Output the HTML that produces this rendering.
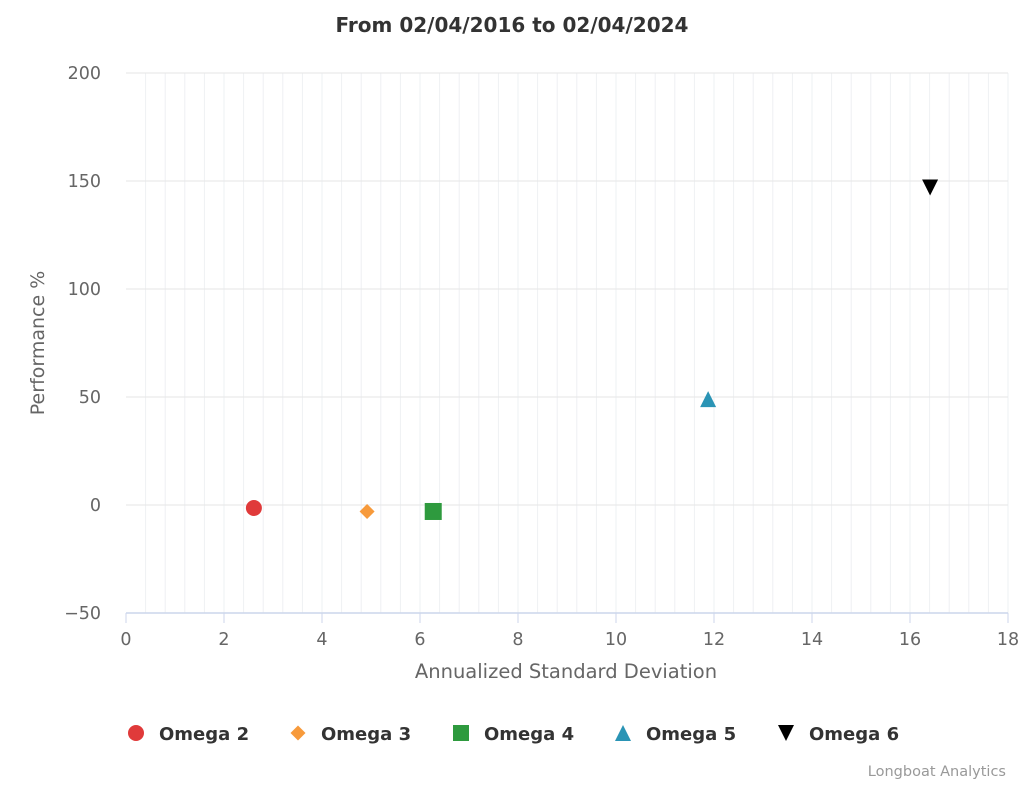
<!DOCTYPE html>
<html><head><meta charset="utf-8"><style>
html,body{margin:0;padding:0;background:#fff;}
svg{display:block;font-family:"DejaVu Sans","Liberation Sans",sans-serif;}
</style></head><body>
<svg id="chart" width="1024" height="785" viewBox="0 0 1024 785">
<text x="512" y="32" text-anchor="middle" font-size="20" font-weight="bold" fill="#333">From 02/04/2016 to 02/04/2024</text>
<g id="grid"></g>
<g id="axes"></g>
<g id="points"></g>
<text x="566" y="678" text-anchor="middle" font-size="19.5" fill="#666">Annualized Standard Deviation</text>
<text transform="translate(44,343) rotate(-90)" text-anchor="middle" font-size="19" fill="#666">Performance %</text>
<g id="legend"></g>
<text x="1006" y="776" text-anchor="end" font-size="14.5" fill="#999">Longboat Analytics</text>
</svg>
<script>
const seriesNames = ["Omega 2","Omega 3","Omega 4","Omega 5","Omega 6"];
const xValues = [2.61, 4.92, 6.27, 11.88, 16.41];
const yValues = [-1.4, -3, -3, 49, 147];
const colors = ["#e03a3a","#f79a3b","#2e9a3e","#2a94b5","#000000"];
const symbols = ["circle","diamond","square","triangle","triangle-down"];
const xTicks = [0,2,4,6,8,10,12,14,16,18];
const yTicks = [-50,0,50,100,150,200];

const X0=126,X1=1008,Y0=613,Y1=73,xMin=0,xMax=18,yMin=-50,yMax=200;
const sx=v=>X0+(v-xMin)/(xMax-xMin)*(X1-X0);
const sy=v=>Y0-(v-yMin)/(yMax-yMin)*(Y0-Y1);
const NS="http://www.w3.org/2000/svg";
function mk(tag,attrs,parent){const e=document.createElementNS(NS,tag);for(const k in attrs)e.setAttribute(k,attrs[k]);parent.appendChild(e);return e;}
const grid=document.getElementById('grid'),axes=document.getElementById('axes'),pts=document.getElementById('points'),leg=document.getElementById('legend');

for(let v=xMin+0.4;v<xMax+0.001;v+=0.4){
  const l=mk('line',{x1:sx(v),x2:sx(v),y1:Y1,y2:Y0,stroke:'#eef0f3','stroke-width':1},grid);
  
  
}
yTicks.forEach(t=>{
  if(t===yMin)return;
  const l=mk('line',{x1:X0,x2:X1,y1:sy(t),y2:sy(t),stroke:'#e6e6e6','stroke-width':1},grid);
  
  
});
yTicks.forEach(t=>{
  const tx=mk('text',{x:101,y:sy(t)+6,'text-anchor':'end','font-size':17.5,fill:'#666'},axes);
  tx.textContent=t<0?'\u2212'+Math.abs(t):String(t);
  
  
});
const ax=mk('line',{x1:X0,x2:X1,y1:Y0,y2:Y0,stroke:'#ccd6eb','stroke-width':1.5},axes);


xTicks.forEach(t=>{
  const tk=mk('line',{x1:sx(t),x2:sx(t),y1:Y0,y2:Y0+10,stroke:'#ccd6eb','stroke-width':1},axes);
  
  
  const tx=mk('text',{x:sx(t),y:645,'text-anchor':'middle','font-size':17.5,fill:'#666'},axes);
  tx.textContent=String(t);
  
  
});

function symbol(type,cx,cy,r,color,parent){
  let e;
  if(type==='circle')e=mk('circle',{cx:cx,cy:cy,r:r,fill:color},parent);
  else if(type==='square')e=mk('rect',{x:cx-r,y:cy-r,width:2*r,height:2*r,fill:color},parent);
  else if(type==='diamond')e=mk('path',{d:`M${cx},${cy-r}L${cx+r},${cy}L${cx},${cy+r}L${cx-r},${cy}Z`,fill:color},parent);
  else if(type==='triangle')e=mk('path',{d:`M${cx},${cy-r}L${cx+r},${cy+r}L${cx-r},${cy+r}Z`,fill:color},parent);
  else e=mk('path',{d:`M${cx-r},${cy-r}L${cx+r},${cy-r}L${cx},${cy+r}Z`,fill:color},parent);
  return e;
}
const sizes={circle:8,diamond:7.5,square:8.5,triangle:8,"triangle-down":8};
seriesNames.forEach((n,i)=>{
  const e=symbol(symbols[i],sx(xValues[i]),sy(yValues[i]),sizes[symbols[i]],colors[i],pts);
  
  
});
const legX=[136,298,461,623,786];
seriesNames.forEach((n,i)=>{
  const g=mk('g',{},leg);
  
  
  symbol(symbols[i],legX[i],733,symbols[i]==='diamond'?7.5:8,colors[i],g);
  const t=mk('text',{x:legX[i]+23,y:740,'font-size':18,'font-weight':'bold',fill:'#333'},g);
  t.textContent=n;
});
</script>
</body></html>
